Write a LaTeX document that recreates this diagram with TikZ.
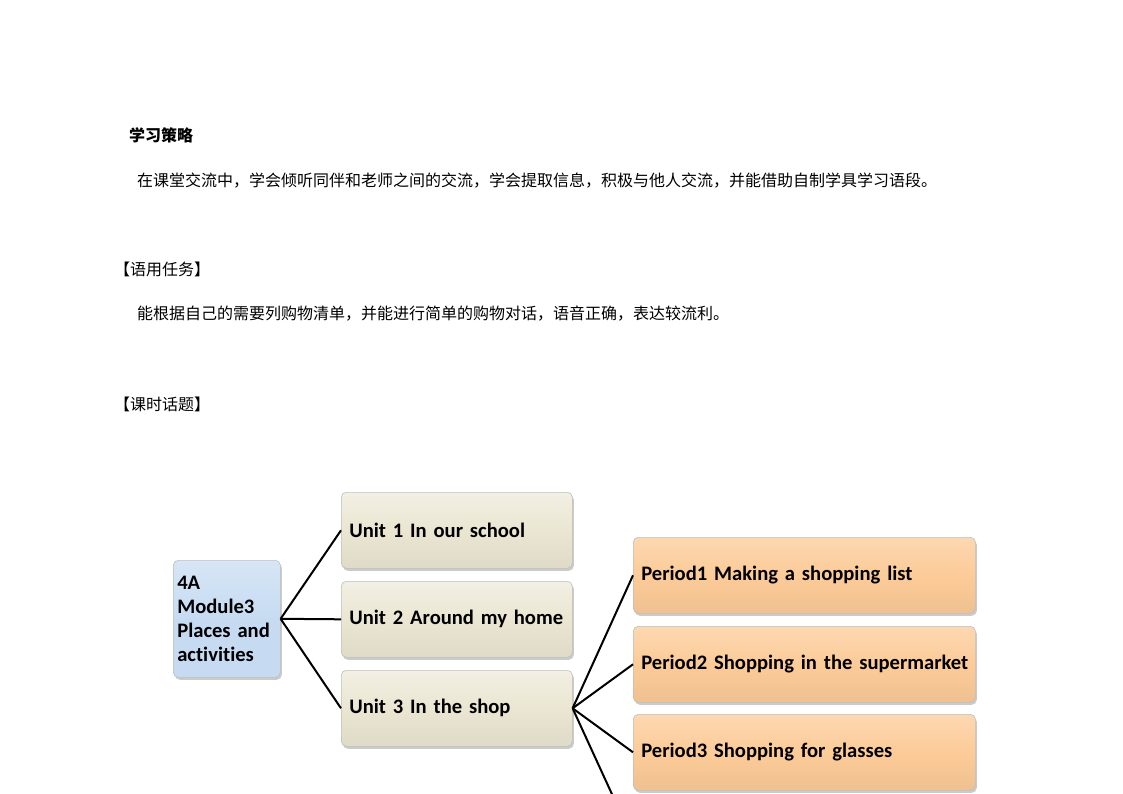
\documentclass[tikz,border=0pt]{standalone}
\usepackage{fontspec}
\setmainfont[Ligatures=NoCommon]{Carlito}
\newfontfamily\cjk{Noto Sans CJK SC}
\usetikzlibrary{shadows}

\definecolor{rootblue}{HTML}{C6DBF2}
\definecolor{unitbeige}{HTML}{EAE6D2}
\definecolor{periodorange}{HTML}{FCCB98}

\begin{document}
\begin{tikzpicture}[x=1pt, y=-1pt, line width=2pt,
  txt/.style={anchor=west, inner sep=0pt, font=\cjk\fontsize{16}{18}\selectfont},
  box/.style={anchor=north west, rounded corners=5pt, draw=black!25, line width=0.6pt,
    align=left, inner xsep=8pt, font=\fontsize{20.6}{24}\selectfont\bfseries,
    drop shadow={shadow xshift=1.5pt, shadow yshift=-2.5pt, fill=black!45, opacity=0.45}},
  rootbox/.style={box, top color=rootblue!70, bottom color=rootblue, middle color=rootblue,
    minimum width=107pt, text width=99pt, inner xsep=4pt, minimum height=117pt},
  unitbox/.style={box, top color=unitbeige!60, bottom color=unitbeige!95!black, middle color=unitbeige,
    minimum width=231pt, text width=215pt, minimum height=76pt},
  periodbox/.style={box, top color=periodorange!75, bottom color=periodorange!95!black, middle color=periodorange,
    minimum width=342pt, text width=326pt, minimum height=76pt}]

\clip (0,0) rectangle (1123,794);
\fill[white] (0,0) rectangle (1123,794);

% text part
\node[txt, font=\cjk\bfseries\fontsize{16}{18}\selectfont] (title) at (128,135) {学习策略};
\node[txt] (strategy) at (136,181) {在课堂交流中，学会倾听同伴和老师之间的交流，学会提取信息，积极与他人交流，并能借助自制学具学习语段。};
\node[txt] (taskhead) at (113,269) {【语用任务】};
\node[txt] (task) at (136,314) {能根据自己的需要列购物清单，并能进行简单的购物对话，语音正确，表达较流利。};
\node[txt] (topichead) at (113,404) {【课时话题】};

% the map
\node[rootbox] (root) at (173,560) {4A\\Module3\\Places and\\activities};

\node[unitbox] (unit1) at (341,492) {\mbox{Unit 1 In our school}};
\node[unitbox] (unit2) at (341,581) {\mbox{Unit 2 Around my home}};
\node[unitbox] (unit3) at (341,670) {\mbox{Unit 3 In the shop}};

\node[periodbox] (period1) at (633,537) {\mbox{Period1 Making a shopping list}};
\node[periodbox] (period2) at (633,626) {\mbox{Period2 Shopping in the supermarket}};
\node[periodbox] (period3) at (633,714) {\mbox{Period3 Shopping for glasses}};
\coordinate (period4) at (633,840);

\draw (root.east) -- (unit1.west);
\draw (root.east) -- (unit2.west);
\draw (root.east) -- (unit3.west);

\draw (unit3.east) -- (period1.west);
\draw (unit3.east) -- (period2.west);
\draw (unit3.east) -- (period3.west);
\draw (unit3.east) -- (period4);

\end{tikzpicture}
\end{document}
